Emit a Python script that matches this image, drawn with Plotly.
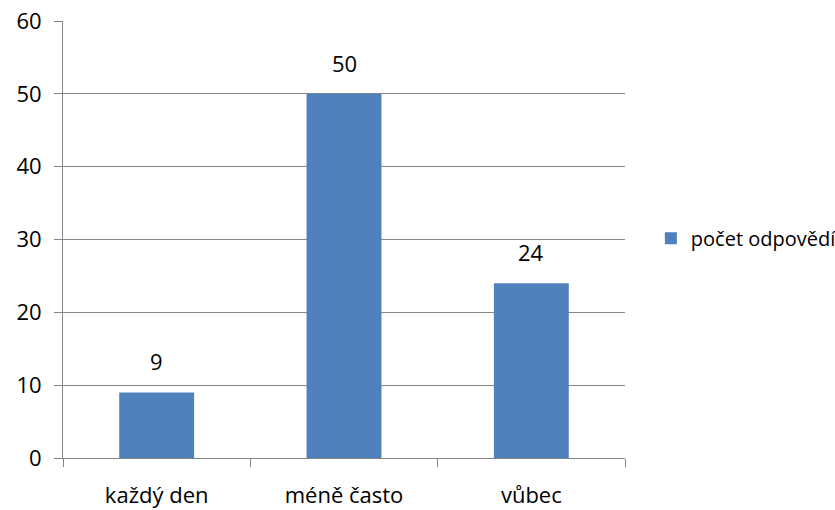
import plotly.graph_objects as go

categories = ["každý den", "méně často", "vůbec"]
values = [9, 50, 24]
series_name = "počet odpovědí"
y_ticks = [0, 10, 20, 30, 40, 50, 60]

FONT = "Open Sans, Noto Sans, sans-serif"
GRID = "#868686"
FS = 22

fig = go.Figure()
fig.add_trace(go.Bar(
    x=categories, y=values, name=series_name,
    marker=dict(color="#4F81BD", line=dict(width=0)),
    width=0.4,
))

for c, v in zip(categories, values):
    fig.add_annotation(x=c, y=v, text=str(v), showarrow=False,
                       yanchor="bottom", yshift=14,
                       font=dict(size=FS, family=FONT, color="#000000"))

fig.update_layout(
    width=835, height=510,
    margin=dict(l=63, r=210, t=21, b=52, autoexpand=False),
    paper_bgcolor="white", plot_bgcolor="white",
    font=dict(family=FONT, size=FS, color="#000000"),
    showlegend=True,
    legend=dict(x=1.046, y=0.503, xanchor="left", yanchor="middle",
                font=dict(size=20, family=FONT), itemwidth=30,
                borderwidth=0, bgcolor="rgba(0,0,0,0)"),
    xaxis=dict(
        showline=True, linecolor=GRID, linewidth=1,
        ticks="outside", ticklen=8, tickcolor=GRID, tickson="boundaries",
        showgrid=False, ticklabelstandoff=18, automargin=False,
        tickfont=dict(size=FS, family=FONT),
    ),
    yaxis=dict(
        range=[0, 60], tickvals=y_ticks,
        showline=True, linecolor=GRID, linewidth=1,
        ticks="outside", ticklen=8, tickcolor=GRID,
        showgrid=True, gridcolor=GRID, gridwidth=1,
        zeroline=False, ticklabelstandoff=8, automargin=False,
        tickfont=dict(size=FS, family=FONT),
    ),
    bargap=0.6,
)

fig.write_html(
    "out.html",
    config={"displayModeBar": False},
    post_script="document.body.style.margin='0';document.body.style.overflow='hidden';",
)
